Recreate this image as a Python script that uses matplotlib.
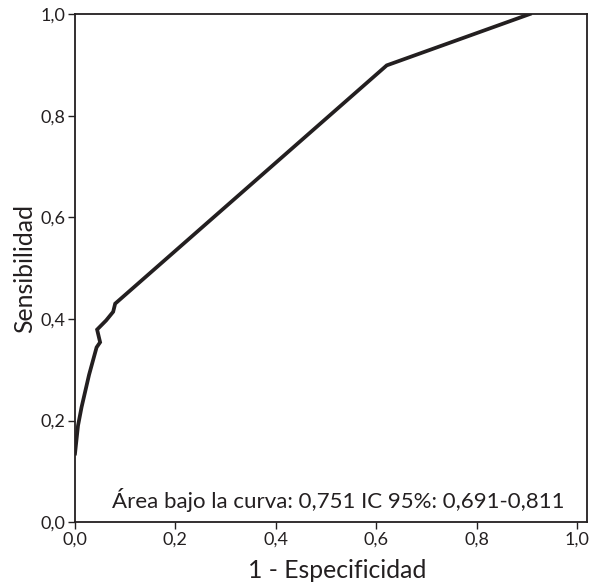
import matplotlib
matplotlib.use("Agg")
import matplotlib.pyplot as plt
from matplotlib.ticker import FuncFormatter

# ROC curve points
fpr = [0.0, 0.006, 0.013, 0.028, 0.043, 0.05, 0.044, 0.062, 0.076, 0.08, 0.621, 0.906]
tpr = [0.135, 0.19, 0.226, 0.29, 0.344, 0.354, 0.379, 0.397, 0.414, 0.430, 0.899, 1.0]
ticks = [0.0, 0.2, 0.4, 0.6, 0.8, 1.0]
annotation = "Área bajo la curva: 0,751 IC 95%: 0,691-0,811"

plt.rcParams['font.family'] = ['Lato', 'DejaVu Sans']
ink = '#231f20'

fig = plt.figure(figsize=(6.02, 5.86), dpi=100)
ax = fig.add_axes([0.1246, 0.109, 0.8505, 0.867])

ax.plot(fpr, tpr, color=ink, lw=2.7, solid_joinstyle='miter')

ax.set_xlim(0, 1.02)
ax.set_ylim(0, 1.0)
ax.set_xticks(ticks)
ax.set_yticks(ticks)
fmt = FuncFormatter(lambda v, p: f"{v:.1f}".replace('.', ','))
ax.xaxis.set_major_formatter(fmt)
ax.yaxis.set_major_formatter(fmt)
ax.tick_params(direction='out', length=5, width=1, color=ink,
               labelsize=13, labelcolor=ink, pad=2)
for s in ax.spines.values():
    s.set_color(ink)
    s.set_linewidth(1.3)

ax.set_xlabel('1 - Especificidad', fontsize=17.8, color=ink)
ax.set_ylabel('Sensibilidad', fontsize=17.8, color=ink, labelpad=3)
ax.xaxis.set_label_coords(0.513, -0.073, transform=ax.transAxes)
ax.xaxis.label.set_va('top')

ax.text(0.957, 0.028, annotation, transform=ax.transAxes, ha='right',
        va='baseline', fontsize=16, color=ink)

fig.savefig('out.png', dpi=100)
